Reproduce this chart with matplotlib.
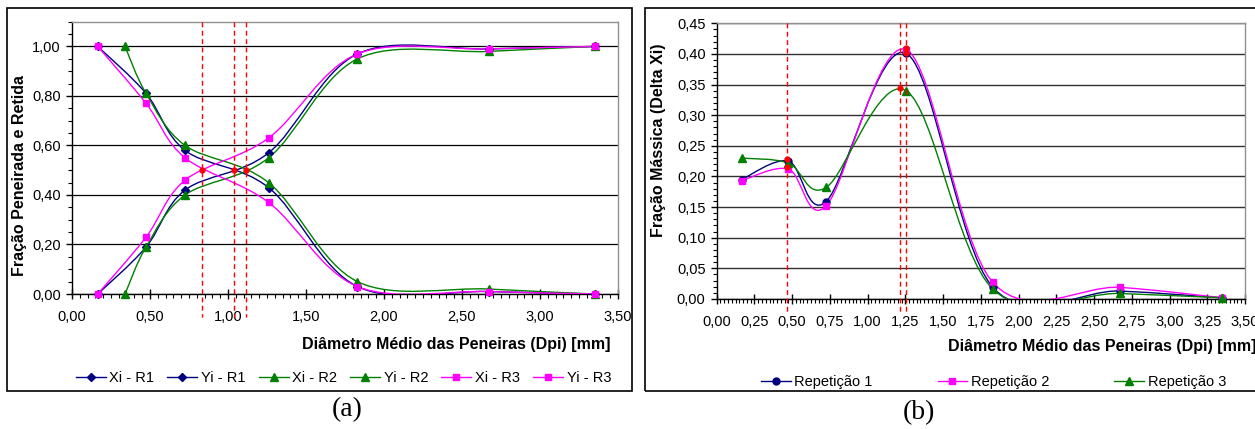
import matplotlib
matplotlib.use('Agg')
import matplotlib.pyplot as plt
from matplotlib.path import Path
from matplotlib.patches import PathPatch, Rectangle
from matplotlib.lines import Line2D
from matplotlib.ticker import MultipleLocator, FuncFormatter

# ---------------- data ----------------
x_r1 = [0.165, 0.475, 0.725, 1.26, 1.83, 2.67, 3.35]
x_r2 = [0.34, 0.475, 0.725, 1.26, 1.83, 2.67, 3.35]
x_r3 = [0.165, 0.475, 0.725, 1.26, 1.83, 2.67, 3.35]

xi_r1 = [1.00, 0.81, 0.58, 0.43, 0.03, 0.01, 0.00]
yi_r1 = [0.00, 0.19, 0.42, 0.57, 0.97, 0.99, 1.00]
xi_r2 = [1.00, 0.81, 0.60, 0.45, 0.05, 0.02, 0.00]
yi_r2 = [0.00, 0.19, 0.40, 0.55, 0.95, 0.98, 1.00]
xi_r3 = [1.00, 0.77, 0.55, 0.37, 0.03, 0.01, 0.00]
yi_r3 = [0.00, 0.23, 0.46, 0.63, 0.97, 0.99, 1.00]

d50_x = [0.832, 1.041, 1.117]
d50_y = [0.50, 0.50, 0.50]

x_b = [0.165, 0.475, 0.725, 1.255, 1.83, 2.67, 3.35]
rep1 = [0.195, 0.225, 0.159, 0.401, 0.019, 0.013, 0.002]
rep2 = [0.193, 0.212, 0.152, 0.407, 0.027, 0.019, 0.002]
rep3 = [0.230, 0.222, 0.182, 0.340, 0.016, 0.009, 0.002]

peak_lines_x = [0.465, 1.216, 1.251]
peak_dots_x = [0.465, 0.465, 1.216, 1.251, 1.251]
peak_dots_y = [0.228, 0.215, 0.345, 0.410, 0.402]

labels_a = ["Xi - R1", "Yi - R1", "Xi - R2", "Yi - R2", "Xi - R3", "Yi - R3"]
labels_b = ["Repetição 1", "Repetição 2", "Repetição 3"]

NAVY = '#000080'
GREEN = '#008000'
MAG = '#FF00FF'
RED = '#FF0000'

plt.rcParams['font.family'] = ['Liberation Sans', 'DejaVu Sans']

W, H = 1255, 429
fig = plt.figure(figsize=(W / 100, H / 100), dpi=100)

TICK_FS = 10.5
LAB_FS = 11.5
LEG_FS = 10.5


def smooth_path(xs, ys):
    pts = list(zip(xs, ys))
    n = len(pts)
    verts = [pts[0]]
    codes = [Path.MOVETO]
    for i in range(n - 1):
        p0 = pts[i - 1] if i > 0 else pts[i]
        p1 = pts[i]
        p2 = pts[i + 1]
        p3 = pts[i + 2] if i + 2 < n else pts[i + 1]
        c1 = (p1[0] + (p2[0] - p0[0]) / 6, p1[1] + (p2[1] - p0[1]) / 6)
        c2 = (p2[0] - (p3[0] - p1[0]) / 6, p2[1] - (p3[1] - p1[1]) / 6)
        verts += [c1, c2, p2]
        codes += [Path.CURVE4] * 3
    return Path(verts, codes)


def draw_series(ax, xs, ys, color, marker, ms):
    ax.add_patch(PathPatch(smooth_path(xs, ys), fill=False, edgecolor=color,
                           lw=1.0, zorder=3))
    ax.plot(xs, ys, ls='none', marker=marker, color=color, ms=ms,
            markeredgecolor=color, zorder=4, clip_on=False)


def comma(v, pos):
    return f"{v:.2f}".replace('.', ',')


def style_axes(ax):
    for s in ['left', 'bottom']:
        ax.spines[s].set_color('black')
        ax.spines[s].set_linewidth(1.0)
    for s in ['top', 'right']:
        ax.spines[s].set_color('#909090')
        ax.spines[s].set_linewidth(1.0)
    ax.xaxis.set_major_formatter(FuncFormatter(comma))
    ax.yaxis.set_major_formatter(FuncFormatter(comma))
    ax.tick_params(axis='x', which='major', direction='inout', length=7,
                   width=1, labelsize=TICK_FS, pad=8)
    ax.tick_params(axis='x', which='minor', direction='out', length=3, width=0.8)
    ax.tick_params(axis='y', which='major', direction='out', length=4,
                   width=1, labelsize=TICK_FS, pad=4)
    ax.tick_params(axis='y', which='minor', direction='out', length=3, width=0.8)
    ax.grid(True, axis='y', which='major', color='black', lw=0.9)
    ax.set_axisbelow(True)


# ---------------- panel frames ----------------
fig.patches.append(Rectangle((7 / W, 1 - 391 / H), (632 - 7) / W, (391 - 8) / H,
                             transform=fig.transFigure, fill=False,
                             edgecolor='black', lw=1.2))
fig.patches.append(Rectangle((645 / W, 1 - 391 / H), (1262 - 645) / W, (391 - 8) / H,
                             transform=fig.transFigure, fill=False,
                             edgecolor='black', lw=1.2))

# ---------------- panel (a) ----------------
axa = fig.add_axes([72 / W, 1 - 294 / H, (618 - 72) / W, (294 - 21.7) / H])
axa.set_xlim(0, 3.5)
axa.set_ylim(0, 1.1)
axa.xaxis.set_major_locator(MultipleLocator(0.5))
axa.xaxis.set_minor_locator(MultipleLocator(0.05))
axa.set_yticks([0, 0.2, 0.4, 0.6, 0.8, 1.0])
axa.yaxis.set_minor_locator(MultipleLocator(0.05))
style_axes(axa)

series_a = [
    (x_r1, xi_r1, NAVY, 'D', 4.5),
    (x_r1, yi_r1, NAVY, 'D', 4.5),
    (x_r2, xi_r2, GREEN, '^', 5.5),
    (x_r2, yi_r2, GREEN, '^', 5.5),
    (x_r3, xi_r3, MAG, 's', 5),
    (x_r3, yi_r3, MAG, 's', 5),
]
for xs, ys, c, m, ms in series_a:
    draw_series(axa, xs, ys, c, m, ms)

for xv in d50_x:
    axa.plot([xv, xv], [1.1, -0.093], ls=(0, (3.5, 2.5)), color=RED, lw=1.0,
             clip_on=False, zorder=5)
axa.plot(d50_x, d50_y, ls='none', marker='o', ms=3.5, color=RED, zorder=6)

fig.text(20 / W, 1 - 176 / H, "Fração Peneirada e Retida", rotation=90,
         ha='center', va='center', fontsize=LAB_FS, fontweight='bold')
fig.text(611 / W, 1 - 345 / H, "Diâmetro Médio das Peneiras (Dpi) [mm]",
         ha='right', va='center', fontsize=LAB_FS, fontweight='bold')

handles_a = [Line2D([], [], color=c, marker=m, ms=ms, lw=1.0)
             for (_, _, c, m, ms) in series_a]
fig.legend(handles_a, labels_a, loc='center', ncol=6,
           bbox_to_anchor=(343.5 / W, 1 - 378 / H), frameon=False,
           fontsize=LEG_FS, handlelength=2.05, handletextpad=0.25,
           columnspacing=0.9, borderpad=0)

fig.text(347 / W, 1 - 410 / H, "(a)", ha='center', va='center', fontsize=20,
         family='Liberation Serif')

# ---------------- panel (b) ----------------
axb = fig.add_axes([716.7 / W, 1 - 299 / H, (1245 - 716.7) / W, (299 - 23.3) / H])
axb.set_xlim(0, 3.5)
axb.set_ylim(0, 0.45)
axb.xaxis.set_major_locator(MultipleLocator(0.25))
axb.xaxis.set_minor_locator(MultipleLocator(0.025))
axb.yaxis.set_major_locator(MultipleLocator(0.05))
axb.yaxis.set_minor_locator(MultipleLocator(0.01))
style_axes(axb)
axb.grid(True, axis='y', which='major', color='#303030', lw=1.0)

series_b = [
    (x_b, rep1, NAVY, 'o', 5),
    (x_b, rep2, MAG, 's', 5),
    (x_b, rep3, GREEN, '^', 5.5),
]
for xs, ys, c, m, ms in series_b:
    draw_series(axb, xs, ys, c, m, ms)

for xv in peak_lines_x:
    axb.plot([xv, xv], [0.45, -0.021], ls=(0, (3.5, 2.5)), color=RED, lw=1.0,
             clip_on=False, zorder=5)
axb.plot(peak_dots_x, peak_dots_y, ls='none', marker='o', ms=3.5, color=RED,
         zorder=6)

fig.text(658 / W, 1 - 140 / H, "Fração Mássica (Delta Xi)", rotation=90,
         ha='center', va='center', fontsize=LAB_FS, fontweight='bold')
fig.text(948 / W, 1 - 347 / H, "Diâmetro Médio das Peneiras (Dpi) [mm]",
         ha='left', va='center', fontsize=LAB_FS, fontweight='bold')

handles_b = [Line2D([], [], color=c, marker=m, ms=ms, lw=1.0)
             for (_, _, c, m, ms) in series_b]
fig.legend(handles_b, labels_b, loc='center', ncol=3,
           bbox_to_anchor=(993.5 / W, 1 - 382 / H), frameon=False,
           fontsize=LEG_FS, handlelength=2.05, handletextpad=0.25,
           columnspacing=4.45, borderpad=0)

fig.text(919 / W, 1 - 413 / H, "(b)", ha='center', va='center', fontsize=20,
         family='Liberation Serif')

fig.savefig('out.png', dpi=100)
